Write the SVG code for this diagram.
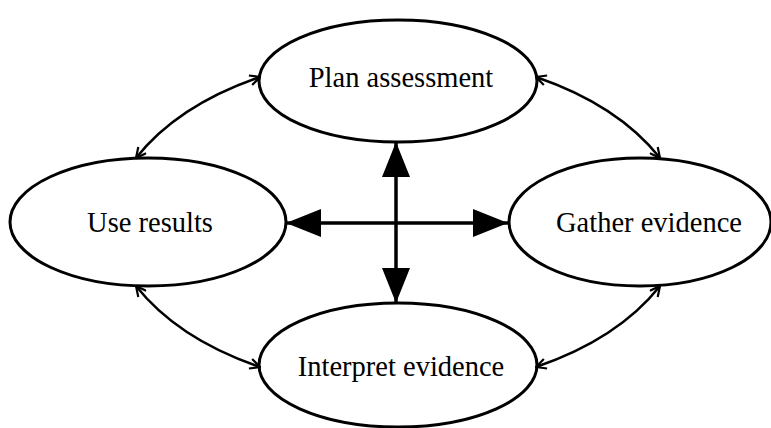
<svg xmlns="http://www.w3.org/2000/svg" width="771" height="428" viewBox="0 0 771 428">
<style>
.node ellipse{fill:#fff;stroke:#000;stroke-width:3}
.node text{font-family:"Liberation Serif","Times New Roman",serif;font-size:28.5px;fill:#000;text-anchor:middle}
.thin{fill:none;stroke:#000;stroke-width:2.5}
.thick{fill:none;stroke:#000;stroke-width:3.5}
</style>
<defs>
<marker id="open" viewBox="0 0 12 12" refX="11" refY="6" markerWidth="12" markerHeight="12" markerUnits="userSpaceOnUse" orient="auto-start-reverse">
<path d="M1,1 L11,6 L1,11" fill="none" stroke="#000" stroke-width="2.2"/>
</marker>
<marker id="solid" viewBox="0 0 35 28" refX="35" refY="14" markerWidth="35" markerHeight="28" markerUnits="userSpaceOnUse" orient="auto-start-reverse">
<path d="M0,0 L35,14 L0,28 Z" fill="#000"/>
</marker>
</defs>
<g id="plan" class="node"><ellipse cx="398" cy="81" rx="139" ry="61"/><text x="401" y="87">Plan assessment</text></g>
<g id="use" class="node"><ellipse cx="148" cy="222" rx="138" ry="64"/><text x="150" y="232">Use results</text></g>
<g id="gather" class="node"><ellipse cx="640" cy="222" rx="131" ry="64"/><text x="649" y="232">Gather evidence</text></g>
<g id="interpret" class="node"><ellipse cx="398" cy="365" rx="139" ry="62"/><text x="401" y="376">Interpret evidence</text></g>
<g id="connectors">
<path class="thin" d="M136,158 Q178,105 260,77" marker-start="url(#open)" marker-end="url(#open)"/>
<path class="thin" d="M536,77 Q618,105 660,158" marker-start="url(#open)" marker-end="url(#open)"/>
<path class="thin" d="M136,286 Q178,339 260,367" marker-start="url(#open)" marker-end="url(#open)"/>
<path class="thin" d="M536,367 Q618,339 660,286" marker-start="url(#open)" marker-end="url(#open)"/>
<path class="thick" d="M396,142 L396,303" marker-start="url(#solid)" marker-end="url(#solid)"/>
<path class="thick" d="M286,223 L508,223" marker-start="url(#solid)" marker-end="url(#solid)"/>
</g>
</svg>
